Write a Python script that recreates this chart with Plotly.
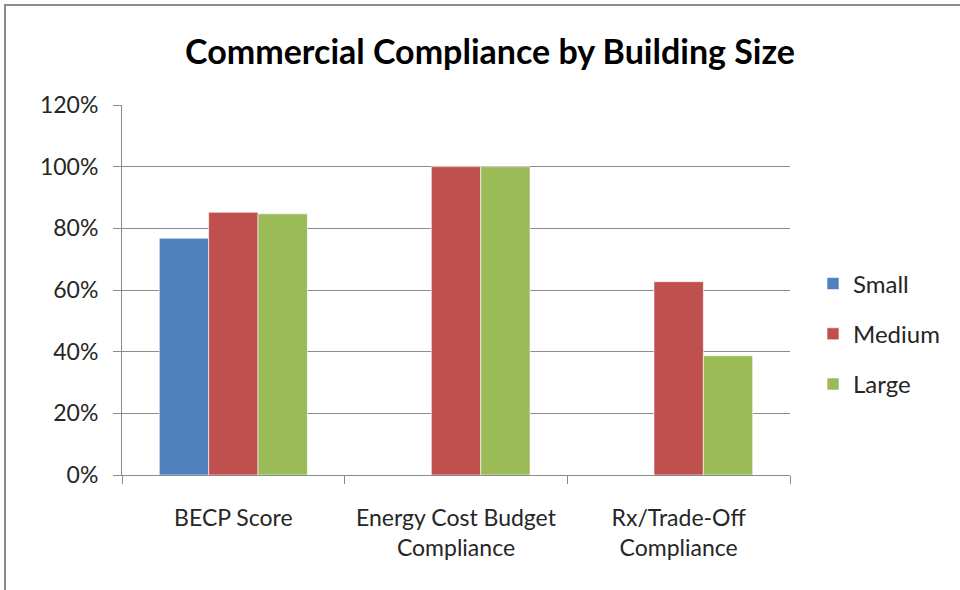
import plotly.graph_objects as go

categories = ["BECP Score", "Energy Cost Budget<br>Compliance", "Rx/Trade-Off<br>Compliance"]
small = [0.768, None, None]
medium = [0.852, 1.0, 0.627]
large = [0.847, 1.0, 0.387]
y_ticks = [0, 0.2, 0.4, 0.6, 0.8, 1.0, 1.2]

font_family = "Lato, Open Sans, sans-serif"
grid_col = "#8c8c8c"

fig = go.Figure()
series = [("Small", small, "#4F81BD"), ("Medium", medium, "#C0504D"), ("Large", large, "#9BBB59")]
for name, vals, col in series:
    fig.add_trace(go.Bar(
        x=categories, y=vals, name=name, legendgroup=name,
        marker=dict(color=col, line=dict(color="rgba(255,255,255,0.6)", width=1)),
    ))

L, R, T, B = 122, 170, 105, 115
pw, ph = 960 - L - R, 590 - T - B

fig.update_layout(
    width=960, height=590,
    margin=dict(l=L, r=R, t=T, b=B),
    paper_bgcolor="white", plot_bgcolor="white",
    barmode="group", bargap=0.335, bargroupgap=0,
    title=dict(text="<b>Commercial Compliance by Building Size</b>", x=490 / 960,
               xref="container", xanchor="center",
               y=1 - 52 / 590, yanchor="middle",
               font=dict(family=font_family, size=34, color="black")),
    font=dict(family=font_family, size=23, color="#262626"),
    legend=dict(x=(853 - 40 - L) / pw, xanchor="left", y=(475 - 334) / ph, yanchor="middle",
                traceorder="grouped", tracegroupgap=16, font=dict(size=24),
                bgcolor="rgba(0,0,0,0)"),
    xaxis=dict(showline=True, linecolor=grid_col, linewidth=1, ticks="outside",
               tickson="boundaries", ticklen=8, tickcolor=grid_col, showgrid=False,
               ticklabelstandoff=22),
    yaxis=dict(range=[0, 1.2], tickvals=y_ticks, tickformat=".0%", showline=True,
               linecolor=grid_col, linewidth=1, ticks="outside", ticklen=8,
               tickcolor=grid_col, showgrid=True, gridcolor=grid_col, gridwidth=1,
               zeroline=False, ticklabelstandoff=10),
)

# chart border (cropped on the right and bottom in the reference)
fig.add_shape(type="rect", xref="paper", yref="paper",
              x0=(5 - L) / pw, x1=(990 - L) / pw, y0=(475 - 620) / ph, y1=(475 - 5) / ph,
              line=dict(color="#8c8c8c", width=2), layer="below")

# drop the default page margin so the figure fills the window from its corner
fig.write_html("out.html", config={"displayModeBar": False},
               post_script="document.body.style.margin = '0';")
